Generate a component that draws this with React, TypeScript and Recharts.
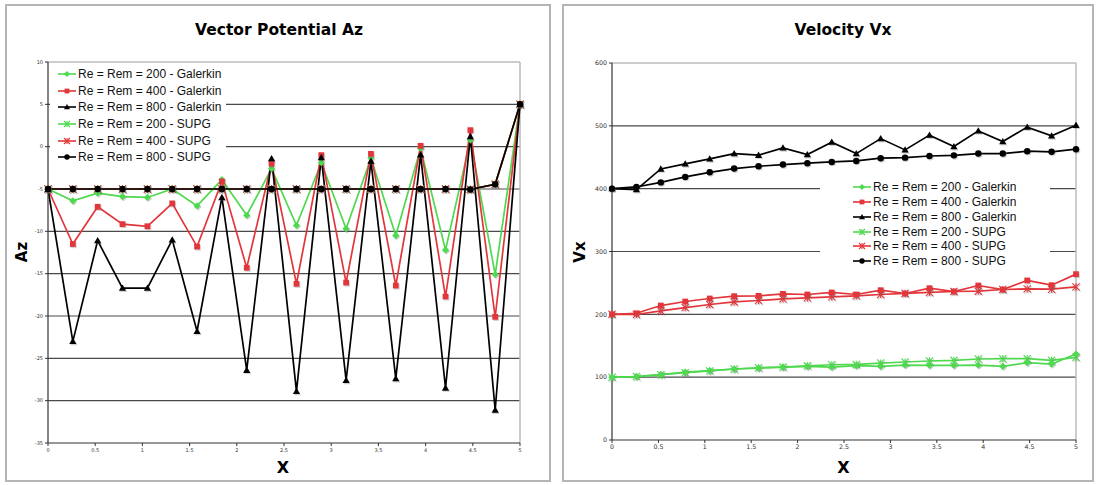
import React from "react";
import { Legend, Line, LineChart, ReferenceLine, XAxis, YAxis } from "recharts";

const GREEN = "#4fd94f";
const RED = "#e2363b";
const BLACK = "#000000";

// x positions of the 20 mesh nodes
const X_POSITIONS = [0, 0.263, 0.526, 0.789, 1.053, 1.316, 1.579, 1.842, 2.105, 2.368, 2.632, 2.895, 3.158, 3.421, 3.684, 3.947, 4.211, 4.474, 4.737, 5];
const X_TICKS = [0, 0.5, 1, 1.5, 2, 2.5, 3, 3.5, 4, 4.5, 5];

// Vector potential Az
const AZ_GALERKIN_200 = [-5, -6.4, -5.5, -5.9, -6.0, -5.0, -7.0, -3.9, -8.1, -2.6, -9.3, -1.9, -9.7, -1.35, -10.5, -0.2, -12.2, 0.8, -15.1, 5];
const AZ_GALERKIN_400 = [-5, -11.5, -7.1, -9.15, -9.4, -6.7, -11.8, -4.1, -14.3, -2.0, -16.2, -1.0, -16.05, -0.85, -16.4, 0.1, -17.7, 1.95, -20.1, 5];
const AZ_GALERKIN_800 = [-5, -23.0, -11.1, -16.7, -16.7, -11.0, -21.8, -6.0, -26.4, -1.4, -28.9, -1.3, -27.6, -1.7, -27.4, -0.95, -28.5, 1.2, -31.1, 5];
const AZ_SUPG_200 = [-5, -5, -5, -5, -5, -5, -5, -5, -5, -5, -5, -5, -5, -5, -5, -5, -5, -5.05, -4.45, 5];
const AZ_SUPG_400 = [-5, -5, -5, -5, -5, -5, -5, -5, -5, -5, -5, -5, -5, -5, -5, -5, -5, -5.05, -4.45, 5];
const AZ_SUPG_800 = [-5, -5, -5, -5, -5, -5, -5, -5, -5, -5, -5, -5, -5, -5, -5, -5, -5, -5.05, -4.45, 5];
const AZ_TICKS = [-35, -30, -25, -20, -15, -10, -5, 0, 5, 10];

// Velocity Vx
const VX_GALERKIN_200 = [100, 101, 104, 108, 110.4, 113, 114.5, 116.1, 117.2, 116, 118.3, 117.2, 119.3, 118.8, 118.8, 119.3, 117.2, 123.1, 120.9, 136.8];
const VX_GALERKIN_400 = [200, 201.7, 214, 220.4, 225.2, 228.9, 229.4, 232.6, 231.6, 234.8, 231.6, 238.4, 233.2, 241.6, 236.3, 245.9, 239.5, 253.9, 246.4, 264];
const VX_GALERKIN_800 = [400, 398.4, 431.4, 439.4, 447.4, 455.8, 453.3, 464.9, 454.2, 474, 455.8, 479.7, 461.7, 485.2, 467, 492, 475, 498, 484, 501];
const VX_SUPG_200 = [100, 101, 104, 107, 110, 113, 115, 116, 118, 119.8, 120.3, 122.5, 124.1, 125.7, 126.8, 128.9, 129.4, 129.4, 126.8, 131.6];
const VX_SUPG_400 = [200, 199.7, 205.4, 210.8, 215.6, 219.8, 222, 224.6, 226.2, 227.8, 229.4, 231.6, 233.2, 234.8, 236.3, 236.9, 239.5, 240.5, 240, 243.7];
const VX_SUPG_800 = [400, 402.7, 410, 418.7, 426, 432, 435.7, 438.3, 440.5, 442.6, 444.2, 448.5, 449.4, 452, 453, 455.8, 455.8, 459.7, 458.6, 462.8];
const VX_TICKS = [0, 100, 200, 300, 400, 500, 600];

type MarkerKind = "diamond" | "square" | "triangle" | "star" | "circle";

const SERIES: { key: string; name: string; color: string; marker: MarkerKind }[] = [
  { key: "g200", name: "Re = Rem = 200 - Galerkin", color: GREEN, marker: "diamond" },
  { key: "g400", name: "Re = Rem = 400 - Galerkin", color: RED, marker: "square" },
  { key: "g800", name: "Re = Rem = 800 - Galerkin", color: BLACK, marker: "triangle" },
  { key: "s200", name: "Re = Rem = 200 - SUPG", color: GREEN, marker: "star" },
  { key: "s400", name: "Re = Rem = 400 - SUPG", color: RED, marker: "star" },
  { key: "s800", name: "Re = Rem = 800 - SUPG", color: BLACK, marker: "circle" },
];

const azData = X_POSITIONS.map((x, i) => ({
  x,
  g200: AZ_GALERKIN_200[i],
  g400: AZ_GALERKIN_400[i],
  g800: AZ_GALERKIN_800[i],
  s200: AZ_SUPG_200[i],
  s400: AZ_SUPG_400[i],
  s800: AZ_SUPG_800[i],
}));

const vxData = X_POSITIONS.map((x, i) => ({
  x,
  g200: VX_GALERKIN_200[i],
  g400: VX_GALERKIN_400[i],
  g800: VX_GALERKIN_800[i],
  s200: VX_SUPG_200[i],
  s400: VX_SUPG_400[i],
  s800: VX_SUPG_800[i],
}));

function markerShape(kind: MarkerKind, x: number, y: number, color: string, s: number) {
  switch (kind) {
    case "diamond":
      return <polygon points={`${x},${y - s} ${x + s},${y} ${x},${y + s} ${x - s},${y}`} fill={color} />;
    case "square":
      return <rect x={x - s * 0.8} y={y - s * 0.8} width={s * 1.6} height={s * 1.6} fill={color} />;
    case "triangle":
      return <polygon points={`${x},${y - s} ${x + s},${y + s * 0.75} ${x - s},${y + s * 0.75}`} fill={color} />;
    case "circle":
      return <circle cx={x} cy={y} r={s * 0.9} fill={color} />;
    case "star":
      return (
        <g stroke={color} strokeWidth={1.1}>
          <line x1={x - s} y1={y - s} x2={x + s} y2={y + s} />
          <line x1={x - s} y1={y + s} x2={x + s} y2={y - s} />
          <line x1={x} y1={y - s} x2={x} y2={y + s} />
        </g>
      );
  }
}

function Marker({ kind, x, y, color, size = 3.6, shadow = true }: { kind: MarkerKind; x: number; y: number; color: string; size?: number; shadow?: boolean }) {
  return (
    <g>
      {shadow && <g opacity={0.3}>{markerShape(kind, x + 1, y + 1.2, "#666", size)}</g>}
      {markerShape(kind, x, y, color, size)}
    </g>
  );
}

const makeDot = (kind: MarkerKind, color: string) => (props: any) => {
  const { cx, cy, index } = props;
  if (cx == null || cy == null) return <g key={`e-${index}`} />;
  return <Marker key={`${kind}-${index}`} kind={kind} x={cx} y={cy} color={color} />;
};

function LegendBox({ rowHeight, padLeft, width }: { rowHeight: number; padLeft: number; width: number }) {
  return (
    <div style={{ background: "#fff", width, paddingLeft: padLeft, boxSizing: "border-box" }}>
      {SERIES.map((s) => (
        <div key={s.key} style={{ height: rowHeight, display: "flex", alignItems: "center" }}>
          <svg width={18} height={10} style={{ marginRight: 2 }}>
            <line x1={0} y1={5} x2={18} y2={5} stroke={s.color} strokeWidth={1.6} />
            <Marker kind={s.marker} x={9} y={5} color={s.color} size={3} shadow={false} />
          </svg>
          <span style={{ fontFamily: "'Liberation Sans', Arial, sans-serif", fontSize: 12, color: "#111", whiteSpace: "nowrap" }}>{s.name}</span>
        </div>
      ))}
    </div>
  );
}

type PanelConfig = {
  left: number;
  width: number;
  height: number;
  data: any[];
  yDomain: [number, number];
  yTicks: number[];
  yAxisWidth: number;
  margin: { top: number; right: number; left: number; bottom: number };
  tickFont: number;
  drawOrder: string[];
  legend: { left: number; top: number; width: number; rowHeight: number; padLeft: number };
};

function ChartPanel({ cfg }: { cfg: PanelConfig }) {
  const [yMin, yMax] = cfg.yDomain;
  const grid = cfg.yTicks.filter((t) => t > yMin && t < yMax);
  const tickStyle = { fontSize: cfg.tickFont, fill: "#333", fontFamily: "'DejaVu Sans', Verdana, sans-serif" };
  return (
    <div style={{ position: "absolute", left: cfg.left, top: 0 }}>
      <LineChart width={cfg.width} height={cfg.height} data={cfg.data} margin={cfg.margin}>
        <XAxis
          dataKey="x"
          type="number"
          domain={[0, 5]}
          ticks={X_TICKS}
          height={12}
          tick={tickStyle}
          tickSize={3}
          axisLine={{ stroke: "#333", strokeWidth: 1.2 }}
          tickLine={{ stroke: "#333" }}
          interval={0}
        />
        <YAxis
          type="number"
          domain={cfg.yDomain}
          ticks={cfg.yTicks}
          width={cfg.yAxisWidth}
          tick={tickStyle}
          tickSize={3}
          axisLine={{ stroke: "#333", strokeWidth: 1.2 }}
          tickLine={{ stroke: "#333" }}
          interval={0}
          allowDataOverflow
        />
        {grid.map((v) => (
          <ReferenceLine key={v} y={v} stroke="#4a4a4a" strokeWidth={1.2} />
        ))}
        <ReferenceLine y={yMax} stroke="#bdbdbd" strokeWidth={1.5} />
        <ReferenceLine x={5} stroke="#bdbdbd" strokeWidth={1.5} />
        {cfg.drawOrder.map((key) => {
          const s = SERIES.find((d) => d.key === key)!;
          return (
            <Line
              key={s.key}
              dataKey={s.key}
              name={s.name}
              type="linear"
              stroke={s.color}
              strokeWidth={1.7}
              dot={makeDot(s.marker, s.color)}
              activeDot={false}
              isAnimationActive={false}
              legendType="none"
            />
          );
        })}
        <Legend
          layout="vertical"
          align="center"
          verticalAlign="middle"
          wrapperStyle={{ left: cfg.legend.left, top: cfg.legend.top, width: cfg.legend.width }}
          content={() => <LegendBox rowHeight={cfg.legend.rowHeight} padLeft={cfg.legend.padLeft} width={cfg.legend.width} />}
        />
      </LineChart>
    </div>
  );
}

const azConfig: PanelConfig = {
  left: 0,
  width: 549,
  height: 480,
  data: azData,
  yDomain: [-35, 10],
  yTicks: AZ_TICKS,
  yAxisWidth: 48,
  margin: { top: 62, right: 29, left: 0, bottom: 25 },
  tickFont: 5,
  drawOrder: ["s200", "s400", "g200", "g400", "g800", "s800"],
  legend: { left: 50, top: 65.6, width: 176, rowHeight: 16.7, padLeft: 8 },
};

const vxConfig: PanelConfig = {
  left: 556,
  width: 543,
  height: 480,
  data: vxData,
  yDomain: [0, 600],
  yTicks: VX_TICKS,
  yAxisWidth: 56,
  margin: { top: 63, right: 23, left: 0, bottom: 28 },
  tickFont: 6.3,
  drawOrder: ["s200", "s400", "g200", "g400", "s800", "g800"],
  legend: { left: 264, top: 180, width: 230, rowHeight: 14.75, padLeft: 33 },
};

const titleStyle: React.CSSProperties = {
  position: "absolute",
  fontFamily: "'DejaVu Sans', Verdana, sans-serif",
  fontWeight: "bold",
  color: "#000",
  whiteSpace: "nowrap",
  transform: "translate(-50%, -50%)",
};

const frameStyle: React.CSSProperties = {
  position: "absolute",
  top: 4,
  height: 478,
  borderTop: "2px solid #b5b5b5",
  borderLeft: "2px solid #b5b5b5",
  borderRight: "2px solid #b5b5b5",
  borderBottom: "2px solid #b5b5b5",
  boxSizing: "border-box",
  pointerEvents: "none",
};

export default function App() {
  return (
    <div style={{ position: "absolute", left: 0, top: 0, width: 1099, height: 485, background: "#fff" }}>
      <ChartPanel cfg={azConfig} />
      <ChartPanel cfg={vxConfig} />

      <div style={{ ...frameStyle, left: 5, width: 546 }} />
      <div style={{ ...frameStyle, left: 562, width: 532 }} />

      <div style={{ ...titleStyle, left: 279, top: 30, fontSize: 15.5 }}>Vector Potential Az</div>
      <div style={{ ...titleStyle, left: 843, top: 30, fontSize: 15.5 }}>Velocity Vx</div>
      <div style={{ ...titleStyle, left: 22, top: 252, fontSize: 15, transform: "translate(-50%, -50%) rotate(-90deg)" }}>Az</div>
      <div style={{ ...titleStyle, left: 580, top: 252, fontSize: 15, transform: "translate(-50%, -50%) rotate(-90deg)" }}>Vx</div>
      <div style={{ ...titleStyle, left: 283, top: 467, fontSize: 16 }}>X</div>
      <div style={{ ...titleStyle, left: 843.5, top: 467, fontSize: 16 }}>X</div>
    </div>
  );
}
